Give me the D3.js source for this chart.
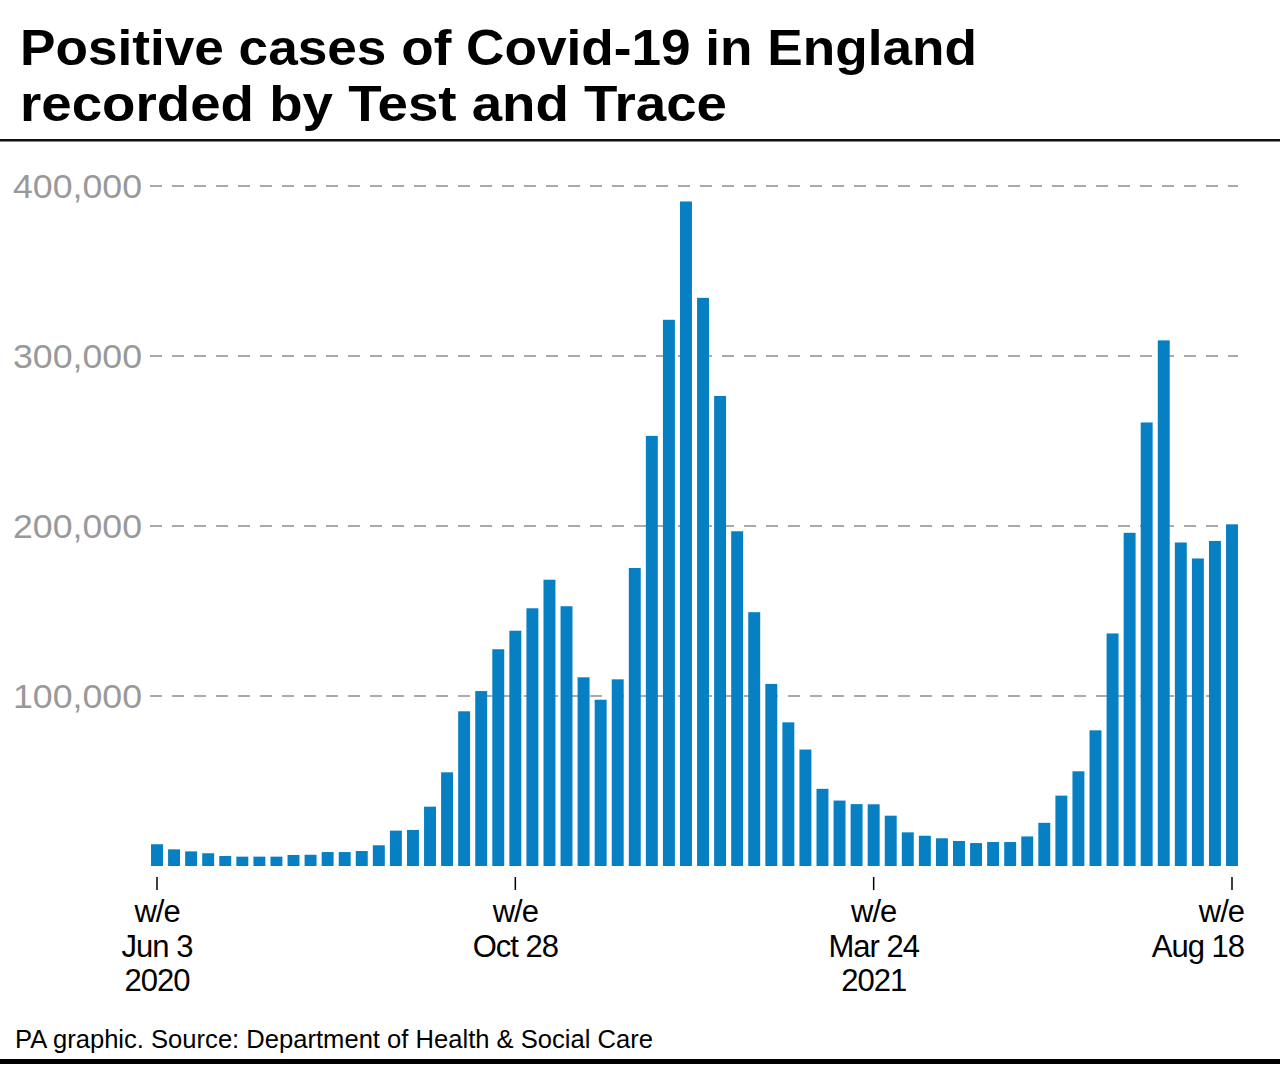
<!DOCTYPE html>
<html><head><meta charset="utf-8">
<script src="https://cdn.jsdelivr.net/npm/d3@7"></script>
<style>
html,body{margin:0;padding:0;background:#fff;}
svg{display:block;font-family:"Liberation Sans",Arial,sans-serif;}
</style></head>
<body>
<svg id="chart" width="1280" height="1070"></svg>
<script>
const titleLines = ["Positive cases of Covid-19 in England", "recorded by Test and Trace"];
const sourceText = "PA graphic. Source: Department of Health & Social Care";
// weekly positive cases, w/e Jun 3 2020 .. w/e Aug 18 2021 (64 weeks)
const weeks = d3.range(64).map(i => "w" + i);
const cases = [
  12800, 9800, 8600, 7500, 5900, 5500, 5500, 5500, 6500, 6600,
  8200, 8200, 8800, 12200, 20800, 21200, 34900, 55100, 91000, 102900,
  127500, 138400, 151600, 168400, 152800, 111000, 97800, 109800, 175300, 253000,
  321300, 390900, 334200, 276500, 196900, 149300, 107100, 84500, 68500, 45400,
  38500, 36400, 36300, 29600, 19800, 17800, 16300, 14700, 13500, 14100,
  14100, 17400, 25400, 41400, 55700, 79800, 136800, 196000, 260900, 309200,
  190300, 180900, 191200, 201000
];
const yTicks = [100000, 200000, 300000, 400000];
const xTickIdx = [0, 21, 42, 63];
const xTickLabels = [["w/e", "Jun 3", "2020"], ["w/e", "Oct 28"], ["w/e", "Mar 24", "2021"], ["w/e", "Aug 18"]];

const svg = d3.select("#chart");
const step = 17.063;
const x = d3.scaleBand().domain(weeks)
  .range([157 - step / 2, 1232 + step / 2])
  .paddingInner(0.3).paddingOuter(0.15);
const y = d3.scaleLinear().domain([0, 400000]).range([866, 186]);

const fit = (sel, target) => {
  sel.attr("textLength", target).attr("lengthAdjust", "spacingAndGlyphs");
};

// title
const tEnds = [977, 727];
titleLines.forEach((t, i) => {
  svg.append("text").attr("x", 20).attr("y", 65 + i * 56)
    .attr("font-size", 50).attr("font-weight", "bold").attr("fill", "#000")
    .text(t).call(fit, tEnds[i] - 20);
});
svg.append("rect").attr("x", 0).attr("y", 139).attr("width", 1280).attr("height", 2.5).attr("fill", "#111");

// grid
const grid = svg.append("g");
grid.selectAll("line").data(yTicks).join("line")
  .attr("x1", 150).attr("x2", 1238)
  .attr("y1", d => y(d)).attr("y2", d => y(d))
  .attr("stroke", "#8f8f8f").attr("stroke-width", 1.6)
  .attr("stroke-dasharray", "12,10");

// y labels
const fmt = d3.format(",");
svg.append("g").selectAll("text").data(yTicks).join("text")
  .attr("x", 142).attr("y", d => y(d) + 12)
  .attr("text-anchor", "end").attr("font-size", 33).attr("fill", "#999")
  .text(d => fmt(d))
  .call(fit, 129);

// bars
svg.append("g").selectAll("rect").data(cases).join("rect")
  .attr("x", (d, i) => x(weeks[i]))
  .attr("width", x.bandwidth())
  .attr("y", d => y(d))
  .attr("height", d => y(0) - y(d))
  .attr("fill", "#0680c2");

// x ticks
const xt = svg.append("g");
xTickIdx.forEach((idx, k) => {
  const cx = x(weeks[idx]) + x.bandwidth() / 2;
  xt.append("line").attr("x1", cx).attr("x2", cx).attr("y1", 877).attr("y2", 890)
    .attr("stroke", "#000").attr("stroke-width", 1.5);
  const last = k === xTickIdx.length - 1;
  xTickLabels[k].forEach((s, j) => {
    xt.append("text")
      .attr("x", last ? 1244 : cx)
      .attr("y", 922 + j * 34.5)
      .attr("text-anchor", last ? "end" : "middle")
      .attr("font-size", 31).attr("fill", "#000")
      .attr("letter-spacing", -1)
      .text(s);
  });
});

// source
svg.append("text").attr("x", 15).attr("y", 1048)
  .attr("font-size", 26).attr("fill", "#000")
  .text(sourceText).call(fit, 638);
svg.append("rect").attr("x", 0).attr("y", 1059).attr("width", 1280).attr("height", 5).attr("fill", "#000");
</script>
</body></html>
